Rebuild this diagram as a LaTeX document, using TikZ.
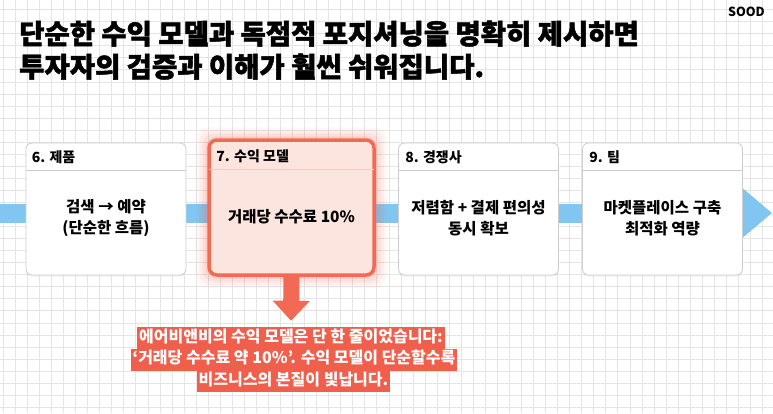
\documentclass[tikz,border=0pt]{standalone}
\usepackage{fontspec}
\setmainfont{Noto Sans CJK KR}
\newfontfamily\titlefont{Noto Sans CJK KR}[BoldFeatures={FakeBold=1.6}]
\usetikzlibrary{arrows.meta,shadows,backgrounds}
\definecolor{bandblue}{RGB}{128,198,240}
\definecolor{coral}{RGB}{243,106,84}
\definecolor{coralfill}{RGB}{253,229,223}
\definecolor{capred}{RGB}{240,94,76}
\definecolor{gridgray}{RGB}{229,229,229}
\definecolor{boxline}{RGB}{205,205,205}

\begin{document}
\begin{tikzpicture}[x=1pt,y=-1pt]
\tikzstyle{card} = [draw=boxline, fill=white, rounded corners=6pt, minimum width=160pt, minimum height=132pt, inner sep=0pt, line width=0.8pt, drop shadow={opacity=0.12,shadow xshift=0pt,shadow yshift=-1.5pt}]
\tikzstyle{hot} = [draw=coral, fill=coralfill, rounded corners=8pt, minimum width=165pt, minimum height=135pt, inner sep=0pt, line width=3.5pt]
\tikzstyle{head} = [anchor=west, inner sep=0pt, font=\bfseries\fontsize{14}{16}\selectfont]
\tikzstyle{body} = [align=center, inner sep=0pt, font=\bfseries\fontsize{15.5}{21}\selectfont]
\tikzstyle{capline} = [fill=capred, text=white, inner xsep=2pt, inner ysep=3pt, text height=12pt, text depth=4pt, font=\bfseries\fontsize{16}{18}\selectfont]
\useasboundingbox (0,0) rectangle (773,413);

% title
\node[anchor=base west, align=left, inner sep=0pt, font=\titlefont\bfseries\fontsize{27.5}{33}\selectfont] (title) at (19,77)
  {단순한 수익 모델과 독점적 포지셔닝을 명확히 제시하면\\투자자의 검증과 이해가 훨씬 쉬워집니다.};
\node[anchor=base east, inner sep=0pt, font=\bfseries\fontsize{12.5}{14}\selectfont] (logo) at (765,16) {SOOD};

% cards
\node[card] (prod) at (106,209) {};
\node[hot]  (rev)  at (291.5,207.5) {};
\node[card] (comp) at (478.5,209) {};
\node[card] (team) at (662.5,209) {};

\draw[boxline] ([yshift=-28pt]prod.north west) -- ([yshift=-28pt]prod.north east);
\draw[coral!35] ([yshift=-31pt,xshift=1.5pt]rev.north west) -- ([yshift=-31pt,xshift=-1.5pt]rev.north east);
\draw[boxline] ([yshift=-28pt]comp.north west) -- ([yshift=-28pt]comp.north east);
\draw[boxline] ([yshift=-28pt]team.north west) -- ([yshift=-28pt]team.north east);

\node[head] (prodh) at ([xshift=6pt,yshift=-15pt]prod.north west) {6. 제품};
\node[head] (revh)  at ([xshift=9pt,yshift=-18pt]rev.north west) {7. 수익 모델};
\node[head] (comph) at ([xshift=7pt,yshift=-15pt]comp.north west) {8. 경쟁사};
\node[head] (teamh) at ([xshift=7pt,yshift=-15pt]team.north west) {9. 팀};

\node[body] (prodb) at (106,218) {검색 → 예약\\(단순한 흐름)};
\node[body] (revb)  at (291.5,217) {거래당 수수료 10\%};
\node[body] (compb) at (478.5,218) {저렴함 + 결제 편의성\\동시 확보};
\node[body] (teamb) at (662.5,218) {마켓플레이스 구축\\최적화 역량};

% caption
\node[capline] (cap1) at (291,338) {에어비앤비의 수익 모델은 단 한 줄이었습니다:};
\node[capline] (cap2) at (294,359.5) {‘거래당 수수료 약 10\%’. 수익 모델이 단순할수록};
\node[capline] (cap3) at (293.5,381) {비즈니스의 본질이 빛납니다.};

\draw[coral, line width=16pt, -{Triangle[width=36pt,length=20pt]}] (rev.south) -- ([yshift=6pt]cap1.north);

\begin{scope}[on background layer]
\foreach \i in {0,...,64}
  \draw[gridgray, line width=0.8pt] (3.3+12.05*\i,0) -- (3.3+12.05*\i,413);
\foreach \j in {0,...,34}
  \draw[gridgray, line width=0.8pt] (0,9.6+12.05*\j) -- (773,9.6+12.05*\j);
\coordinate (bandin) at (0,213);
\coordinate (bandout) at (772,213);
\draw[bandblue, line width=19pt, -{Triangle[width=47pt,length=29pt]}] (bandin) -- (bandout);
% glow round the hot card
\foreach \g/\o in {11/0.05, 8/0.07, 5/0.10, 2/0.14}
  \fill[coral, opacity=\o, rounded corners=12pt] ([xshift=-\g pt,yshift=\g pt]rev.north west) rectangle ([xshift=\g pt,yshift=-\g pt]rev.south east);
\end{scope}
\end{tikzpicture}
\end{document}
